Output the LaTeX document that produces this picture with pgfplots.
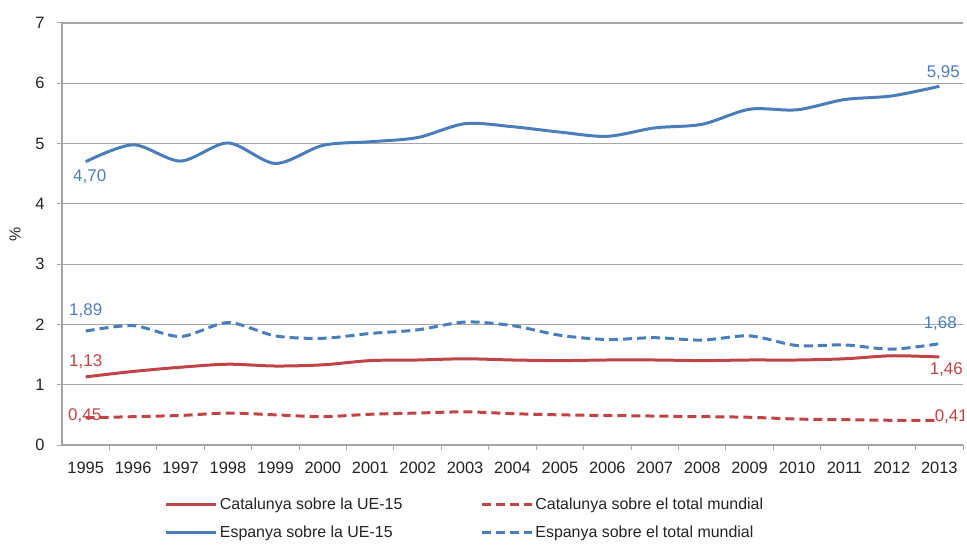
\documentclass[border=0pt]{standalone}
\usepackage{pgfplots}
\pgfplotsset{compat=1.18}
\usepackage{fontspec}
\setmainfont{Liberation Sans}
\definecolor{cblue}{RGB}{74,126,187}
\definecolor{cred}{RGB}{192,68,70}
\definecolor{cgrid}{RGB}{165,165,165}
\definecolor{ctext}{RGB}{35,35,35}
\begin{document}
\begin{tikzpicture}
\useasboundingbox (0,0) rectangle (967bp,547bp);
\begin{axis}[
  at={(62bp,102bp)}, anchor=south west,
  scale only axis, width=901bp, height=422bp,
  xmin=-0.5, xmax=18.5, ymin=0, ymax=7,
  axis x line*=bottom, axis y line*=left,
  axis line style={cgrid, line width=1.2bp},
  xtick={0,...,18},
  xticklabels={1995,1996,1997,1998,1999,2000,2001,2002,2003,2004,2005,2006,2007,2008,2009,2010,2011,2012,2013},
  major x tick style={draw=none},
  minor xtick={0.5,1.5,...,17.5,18.5},
  minor x tick style={cgrid, line width=1bp},
  ytick={0,...,7},
  tick align=outside,
  major tick length=5bp, minor tick length=5bp,
  y tick style={cgrid, line width=1bp},
  ymajorgrids, grid style={cgrid, line width=1.2bp},
  /pgf/number format/assume math mode=true,
  tick label style={font=\fontsize{16.5}{19}\selectfont, text=ctext},
  xticklabel style={yshift=-9bp},
  yticklabel style={xshift=-9bp},
  ylabel={\%},
  ylabel style={at={(axis description cs:-0.052,0.5)}, anchor=center, font=\fontsize{16}{19}\selectfont, text=ctext},
  legend columns=2,
  legend cell align=left,
  legend image code/.code={\draw[#1] (0bp,0bp) -- (50bp,0bp);},
  legend style={draw=none, fill=none, at={(0.114,-0.12)}, anchor=north west,
    font=\fontsize{16}{19}\selectfont, text=ctext,
    /tikz/every even column/.append style={column sep=76bp},
    row sep=11bp, inner sep=0pt},
  every axis plot/.append style={line width=3bp, smooth},
]
\addplot[cred, line width=3bp] coordinates {
(0,1.13)(1,1.22)(2,1.29)(3,1.34)(4,1.31)(5,1.33)(6,1.40)(7,1.41)(8,1.43)(9,1.41)
(10,1.40)(11,1.41)(12,1.41)(13,1.40)(14,1.41)(15,1.41)(16,1.43)(17,1.48)(18,1.46)}
 node[pos=0, anchor=south, yshift=3bp, font=\fontsize{17}{19}\selectfont] {1,13}
 node[pos=1, anchor=north, xshift=7bp, yshift=-1bp, font=\fontsize{17}{19}\selectfont] {1,46};
\addlegendentry{Catalunya sobre la UE-15}
\addplot[cred, dash pattern=on 9bp off 5bp] coordinates {
(0,0.45)(1,0.47)(2,0.49)(3,0.53)(4,0.50)(5,0.47)(6,0.51)(7,0.53)(8,0.55)(9,0.52)
(10,0.50)(11,0.49)(12,0.48)(13,0.47)(14,0.46)(15,0.43)(16,0.42)(17,0.41)(18,0.41)}
 node[pos=0, anchor=center, xshift=-1bp, yshift=2bp, font=\fontsize{17}{19}\selectfont] {0,45}
 node[pos=1, anchor=center, xshift=12bp, yshift=4bp, font=\fontsize{17}{19}\selectfont] {0,41};
\addlegendentry{Catalunya sobre el total mundial}
\addplot[cblue] coordinates {
(0,4.70)(1,4.98)(2,4.71)(3,5.01)(4,4.67)(5,4.97)(6,5.03)(7,5.10)(8,5.33)(9,5.28)
(10,5.19)(11,5.12)(12,5.26)(13,5.32)(14,5.57)(15,5.56)(16,5.73)(17,5.79)(18,5.95)}
 node[pos=0, anchor=north, xshift=4bp, yshift=-3bp, font=\fontsize{17}{19}\selectfont] {4,70}
 node[pos=1, anchor=south, xshift=4bp, yshift=2bp, font=\fontsize{17}{19}\selectfont] {5,95};
\addlegendentry{Espanya sobre la UE-15}
\addplot[cblue, dash pattern=on 9bp off 5bp] coordinates {
(0,1.89)(1,1.98)(2,1.80)(3,2.03)(4,1.81)(5,1.77)(6,1.85)(7,1.91)(8,2.04)(9,1.98)
(10,1.82)(11,1.75)(12,1.78)(13,1.74)(14,1.81)(15,1.65)(16,1.66)(17,1.59)(18,1.68)}
 node[pos=0, anchor=south, yshift=9bp, font=\fontsize{17}{19}\selectfont] {1,89}
 node[pos=1, anchor=south, xshift=1bp, yshift=8bp, font=\fontsize{17}{19}\selectfont] {1,68};
\addlegendentry{Espanya sobre el total mundial}
\end{axis}
\end{tikzpicture}
\end{document}
